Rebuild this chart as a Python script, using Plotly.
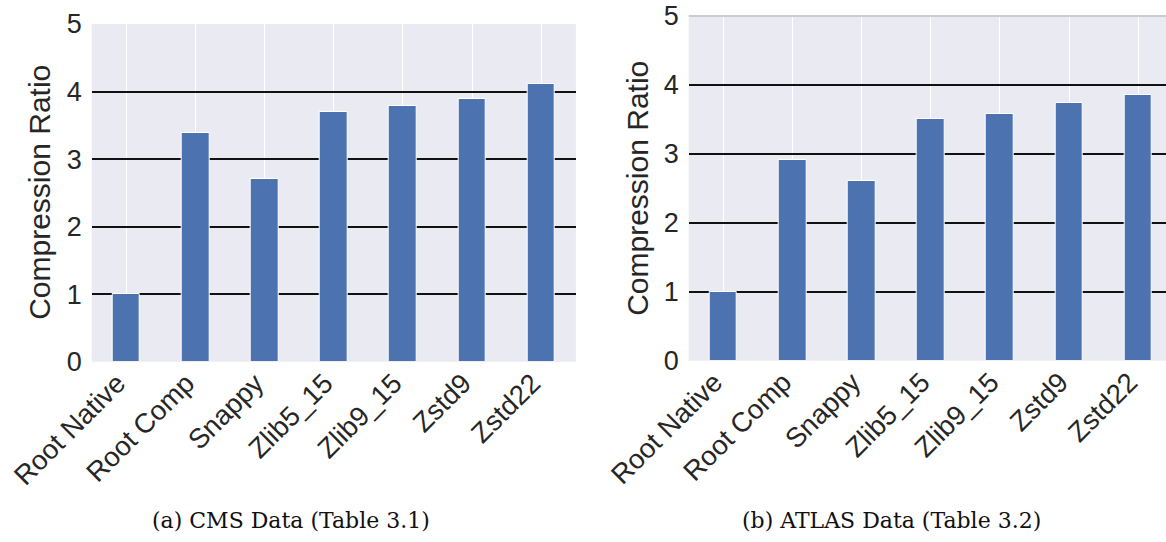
import plotly.graph_objects as go

categories = ["Root Native", "Root Comp", "Snappy", "Zlib5_15", "Zlib9_15", "Zstd9", "Zstd22"]
cms_ratio = [1.00, 3.39, 2.70, 3.70, 3.78, 3.89, 4.11]
atlas_ratio = [1.00, 2.91, 2.61, 3.51, 3.58, 3.74, 3.86]
y_ticks = [0, 1, 2, 3, 4, 5]
y_title = "Compression Ratio"
captions = ["(a) CMS Data (Table 3.1)", "(b) ATLAS Data (Table 3.2)"]

W, H = 1166, 542
BAR = "#4C72B0"
TXT = "#262626"
SANS = "Liberation Sans, Arial, sans-serif"

fig = go.Figure()
for vals, xa, ya in [(cms_ratio, "x", "y"), (atlas_ratio, "x2", "y2")]:
    fig.add_trace(go.Bar(
        x=categories, y=vals, xaxis=xa, yaxis=ya, width=0.4,
        marker=dict(color=BAR, line=dict(color="white", width=1)),
        showlegend=False, hoverinfo="x+y"))

xcommon = dict(showgrid=True, gridcolor="white", gridwidth=1.3, zeroline=False,
               showline=False, ticks="", tickangle=-45, ticklabelshift=-9,
               ticklabelstandoff=-1, automargin=False,
               tickfont=dict(family=SANS, size=27.5, color=TXT))
ycommon = dict(range=[0, 5], tickvals=y_ticks, showgrid=True, gridcolor="#111111",
               gridwidth=1.6, zeroline=False, automargin=False,
               showline=False, ticks="", ticklabelstandoff=9,
               tickfont=dict(family=SANS, size=27, color=TXT))

fig.update_layout(
    width=W, height=H,
    margin=dict(l=0, r=0, t=0, b=0, autoexpand=False),
    paper_bgcolor="white",
    plot_bgcolor="#EAEAF2",
    bargap=0,
    xaxis=dict(domain=[91.7 / W, 575.9 / W], range=[-0.5, 6.5], anchor="y", **xcommon),
    yaxis=dict(domain=[(H - 361.7) / H, (H - 24) / H], anchor="x", **ycommon),
    xaxis2=dict(domain=[688.7 / W, 1.0], range=[-0.5, 6.4], anchor="y2", **xcommon),
    yaxis2=dict(domain=[(H - 360.7) / H, (H - 16) / H], anchor="x2", **ycommon),
)

fig.update_layout(shapes=[
    dict(type="line", xref="x2 domain", yref="y2 domain", x0=0, x1=1, y0=1, y1=1,
         layer="above", line=dict(color="#cccccc", width=2)),
])

annotations = [
    dict(text=y_title, xref="paper", yref="paper", x=40 / W,
         y=1 - ((24 + 361.7) / 2) / H, textangle=-90, showarrow=False,
         xanchor="center", yanchor="middle",
         font=dict(family=SANS, size=30, color=TXT)),
    dict(text=y_title, xref="paper", yref="paper", x=637.5 / W,
         y=1 - ((16 + 360.7) / 2) / H, textangle=-90, showarrow=False,
         xanchor="center", yanchor="middle",
         font=dict(family=SANS, size=30, color=TXT)),
    dict(text=captions[0], xref="paper", yref="paper", x=291 / W, y=1 - 520 / H,
         showarrow=False, xanchor="center", yanchor="middle",
         font=dict(family="DejaVu Serif, serif", size=22, color="#111111")),
    dict(text=captions[1], xref="paper", yref="paper", x=891.5 / W, y=1 - 520 / H,
         showarrow=False, xanchor="center", yanchor="middle",
         font=dict(family="DejaVu Serif, serif", size=22, color="#111111")),
]
fig.update_layout(annotations=annotations)

fig.write_html("out.html")
